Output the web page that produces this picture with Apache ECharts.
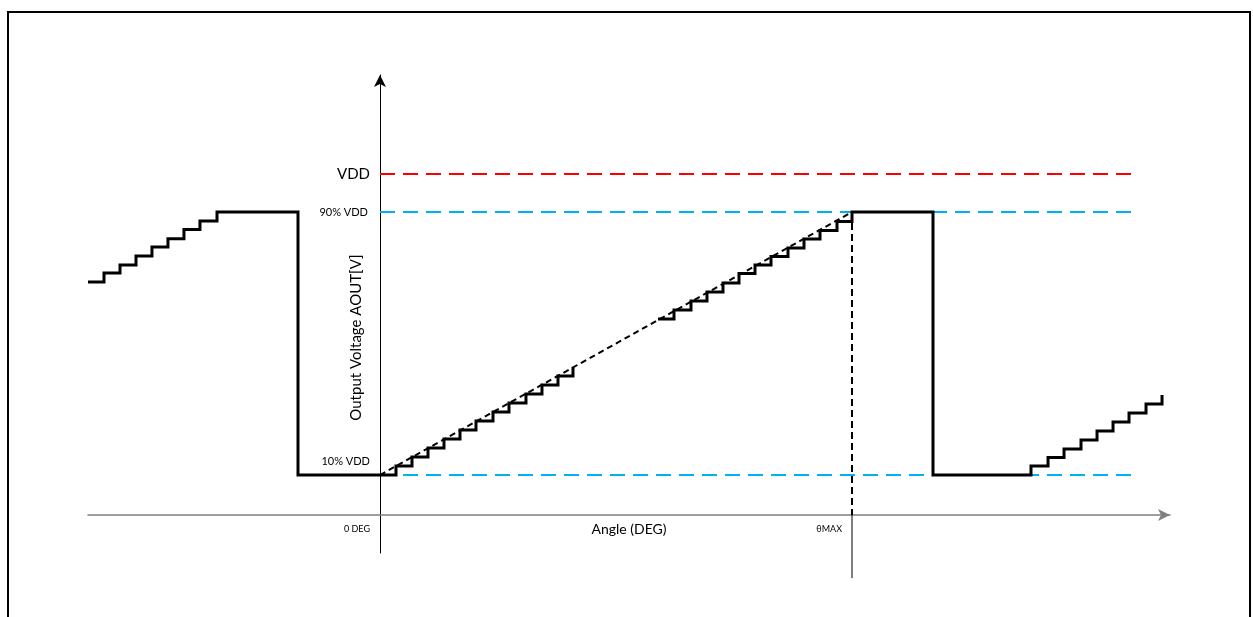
<!DOCTYPE html>
<html><head><meta charset="utf-8">
<script src="https://cdn.jsdelivr.net/npm/echarts@6/dist/echarts.min.js"></script>
<style>html,body{margin:0;padding:0;background:#fff}#c{width:1253px;height:617px}</style>
</head><body><div id="c"></div>
<script>
// Units: angle where thetaMAX = 100; voltage where VDD = 100
const VDD = 100, HI = 88.86, LO = 11.73;
const THETA_MAX = 100;
const REF_END = 159.32;
const xRange = [-61.86, 167.37];
const yRange = [-11.14, 129.03];
const levelLabels = ['VDD', '90% VDD', '10% VDD'];
const axisLabels = ['0 DEG', 'θMAX'];
const axisNames = ['Angle (DEG)', 'Output Voltage AOUT[V]'];
// staircase 1 (points where each step ends; step: 'end')
const stairs1X = [-61.86,-58.47,-55.08,-51.69,-48.31,-44.92,-41.53,-38.14,-34.53,-17.37,3.39,6.78,10.17,13.56,16.95,20.34,23.94,27.33,30.93,34.32,37.71,40.89];
const stairs1Y = [68.33,70.97,73.31,75.95,78.59,81.03,83.72,86.22,88.86,11.73,14.37,17.01,19.65,22.29,24.93,27.57,30.21,32.84,35.48,38.12,40.76,43.40];
// staircase 2
const stairs2X = [58.90,62.29,65.89,69.28,72.67,76.06,79.45,82.84,86.44,89.83,93.22,96.82,100,117.16,137.92,141.53,144.92,148.52,151.91,155.30,158.69,162.29,165.68];
const stairs2Y = [57.48,60.12,62.76,65.40,68.04,70.82,73.31,75.81,78.30,80.94,83.43,86.07,88.86,11.73,14.37,16.86,19.35,21.99,24.63,27.27,29.91,32.55,35.19];
const idealX = [0, THETA_MAX];
const idealY = [LO, HI];

const zip = (a, b) => a.map((v, i) => [v, b[i]]);
const FONT = 'Lato, "Open Sans", sans-serif';
const chart = echarts.init(document.getElementById('c'));
const dashRef = (y, color) => ({
  type: 'line', data: [[0, y], [REF_END, y]], symbol: 'none', silent: true,
  lineStyle: { color: color, width: 2, type: [15, 8] }, z: 2
});
const option = {
  animation: false,
  grid: { left: 88, right: 83, top: 75, bottom: 64 },
  xAxis: {
    type: 'value', min: xRange[0], max: xRange[1],
    axisLine: { onZero: true, symbol: ['none', 'arrow'], symbolSize: [9, 12], lineStyle: { color: '#7f7f7f', width: 1.5 } },
    axisTick: { show: false }, axisLabel: { show: false }, splitLine: { show: false }
  },
  yAxis: {
    type: 'value', min: yRange[0], max: yRange[1],
    axisLine: { onZero: true, symbol: ['none', 'arrow'], symbolSize: [9, 12], lineStyle: { color: '#000', width: 1 } },
    axisTick: { show: false }, axisLabel: { show: false }, splitLine: { show: false }
  },
  series: [
    dashRef(VDD, '#ff0000'),
    dashRef(HI, '#00b0f0'),
    dashRef(LO, '#00b0f0'),
    { type: 'line', data: zip(idealX, idealY), symbol: 'none', lineStyle: { color: '#000', width: 2, type: [6, 4] }, z: 3 },
    { type: 'line', data: [[THETA_MAX, HI], [THETA_MAX, 0]], symbol: 'none', lineStyle: { color: '#000', width: 2, type: [7, 4] }, z: 3 },
    { type: 'line', data: [[THETA_MAX, 0], [THETA_MAX, -18.5]], symbol: 'none', clip: false, lineStyle: { color: '#000', width: 1 }, z: 3 },
    { type: 'line', step: 'end', data: zip(stairs1X, stairs1Y), symbol: 'none', lineStyle: { color: '#000', width: 3, join: 'miter' }, z: 4 },
    { type: 'line', step: 'end', data: zip(stairs2X, stairs2Y), symbol: 'none', lineStyle: { color: '#000', width: 3, join: 'miter' }, z: 4 }
  ]
};
chart.setOption(option);
const p = (x, y) => chart.convertToPixel({ gridIndex: 0 }, [x, y]);
const txt = (text, pt, dx, dy, size, align, extra) => Object.assign({
  type: 'text', x: pt[0] + dx, y: pt[1] + dy, z: 10,
  style: { text: text, fill: '#000', fontSize: size, fontFamily: FONT, align: align, verticalAlign: 'middle' }
}, extra || {});
chart.setOption({
  graphic: [
    { type: 'rect', shape: { x: 8, y: 12, width: 1242, height: 700 }, style: { fill: 'none', stroke: '#000', lineWidth: 2 }, z: 0 },
    txt(levelLabels[0], p(0, VDD), -10, 0, 15, 'right'),
    txt(levelLabels[1], p(0, HI), -12, 0, 11, 'right'),
    txt(levelLabels[2], p(0, LO), -10, -14, 11, 'right'),
    txt(axisLabels[0], p(0, 0), -10, 14, 9, 'right'),
    txt(axisLabels[1], p(THETA_MAX, 0), -10, 14, 9, 'right'),
    txt(axisNames[0], p((xRange[0] + xRange[1]) / 2, 0), 0, 14, 14, 'center'),
    txt(axisNames[1], p(0, (LO + HI) / 2), -24, -6, 15, 'center', { rotation: Math.PI / 2 })
  ]
});
</script></body></html>
